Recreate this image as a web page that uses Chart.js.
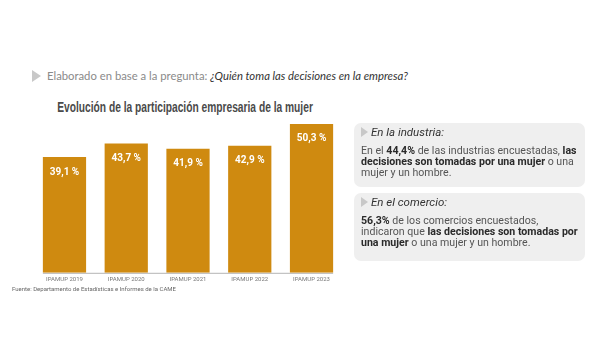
<!DOCTYPE html>
<html>
<head>
<meta charset="utf-8">
<script src="https://cdn.jsdelivr.net/npm/chart.js@4/dist/chart.umd.min.js"></script>
<style>
  html, body { margin: 0; padding: 0; background: #fff; }
  body { width: 600px; height: 360px; position: relative; overflow: hidden; font-family: Roboto, "Open Sans", sans-serif; }
  #sub { position: absolute; left: 32px; top: 69px; font-family: Lato, "Open Sans", sans-serif; font-size: 11.3px; color: #8a8a8a; white-space: nowrap; }
  #sub i { color: #333; }
  .tri { display: inline-block; width: 0; height: 0; border-top: 6px solid transparent; border-bottom: 6px solid transparent; border-left: 9px solid #c8c8c8; vertical-align: -2px; margin-right: 6px; }
  #title { position: absolute; left: 0px; width: 371px; top: 97px; text-align: center; white-space: nowrap; }
  #title span { display: inline-block; transform: scaleX(0.73); transform-origin: center; font-family: "Liberation Sans", Arial, sans-serif; font-weight: bold; font-size: 14px; color: #4a4a4a; }
  #chartbox { position: absolute; left: 20px; top: 100px; width: 340px; height: 190px; }
  #src { position: absolute; left: 12px; top: 285px; font-size: 6px; color: #666; white-space: nowrap; }
  .box { position: absolute; left: 354px; width: 231px; background: #efefef; border-radius: 7px; box-sizing: border-box; padding: 4px 6px 0 7px; color: #555; font-size: 10.6px; line-height: 11px; }
  .box b { color: #2a2a2a; }
  .box .h { font-style: italic; color: #333; font-size: 11.5px; margin-bottom: 7px; margin-top: 0px; }
  .box .h .tri { border-top-width: 5px; border-bottom-width: 5px; border-left-width: 7px; margin-right: 3px; vertical-align: -1px; }
</style>
</head>
<body>
<div id="sub"><span class="tri"></span>Elaborado en base a la pregunta: <i>¿Quién toma las decisiones en la empresa?</i></div>
<div id="title"><span>Evolución de la participación empresaria de la mujer</span></div>
<div id="chartbox"><canvas id="c"></canvas></div>
<div id="src">Fuente: Departamento de Estadísticas e Informes de la CAME</div>
<div class="box" style="top:123px;height:64px;">
  <div class="h"><span class="tri"></span>En la industria:</div>
  En el <b>44,4%</b> de las industrias encuestadas, <b>las decisiones son tomadas por una mujer</b> o una mujer y un hombre.
</div>
<div class="box" style="top:193px;height:68px;">
  <div class="h"><span class="tri"></span>En el comercio:</div>
  <b>56,3%</b> de los comercios encuestados, indicaron que <b>las decisiones son tomadas por una mujer</b> o una mujer y un hombre.
</div>
<script>
const categories = ["IPAMUP 2019", "IPAMUP 2020", "IPAMUP 2021", "IPAMUP 2022", "IPAMUP 2023"];
const values = [39.1, 43.7, 41.9, 42.9, 50.3];
const valueLabels = ["39,1 %", "43,7 %", "41,9 %", "42,9 %", "50,3 %"];

const labelPlugin = {
  id: 'valueLabels',
  beforeDatasetsDraw(chart) {
    const ctx = chart.ctx;
    const meta = chart.getDatasetMeta(0);
    const first = meta.data[0], last = meta.data[meta.data.length - 1];
    const y0 = chart.scales.y.getPixelForValue(0);
    ctx.save();
    ctx.strokeStyle = '#b5b5b5';
    ctx.lineWidth = 1;
    ctx.beginPath();
    ctx.moveTo(first.x - first.width / 2, y0 + 0.5);
    ctx.lineTo(last.x + last.width / 2, y0 + 0.5);
    ctx.stroke();
    ctx.restore();
  },
  afterDatasetsDraw(chart) {
    const ctx = chart.ctx;
    const meta = chart.getDatasetMeta(0);
    ctx.save();
    ctx.fillStyle = '#ffffff';
    ctx.font = 'bold 10px Roboto, sans-serif';
    ctx.textAlign = 'center';
    ctx.textBaseline = 'middle';
    meta.data.forEach((bar, i) => {
      ctx.fillText(valueLabels[i], bar.x, bar.y + 15);
    });
    ctx.restore();
  }
};

new Chart(document.getElementById('c'), {
  type: 'bar',
  data: {
    labels: categories,
    datasets: [{
      data: values,
      backgroundColor: '#cf8a10',
      borderWidth: 0,
      barPercentage: 0.7,
      categoryPercentage: 1.0
    }]
  },
  options: {
    responsive: true,
    maintainAspectRatio: false,
    animation: false,
    layout: { padding: { left: 13.6, right: 17.6, top: 10, bottom: 4 } },
    plugins: { legend: { display: false }, tooltip: { enabled: false } },
    scales: {
      x: {
        grid: { display: false, drawTicks: false },
        border: { display: false },
        ticks: { color: '#777', font: { size: 6, family: 'Roboto, sans-serif' }, padding: 3 }
      },
      y: {
        display: false,
        min: 0,
        max: 55
      }
    }
  },
  plugins: [labelPlugin]
});
</script>
</body>
</html>
